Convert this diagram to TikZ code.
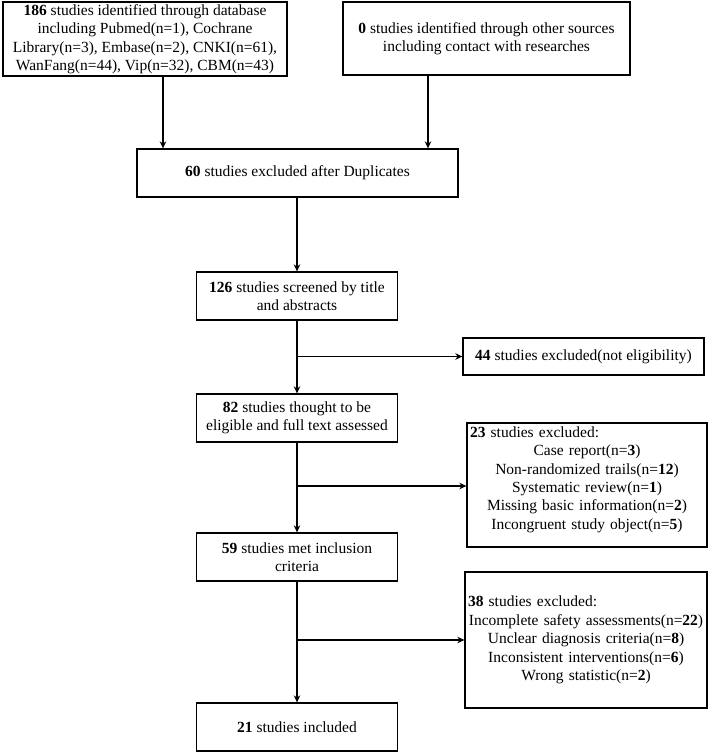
\documentclass[tikz,border=0pt]{standalone}
\usepackage{fontspec}
\setmainfont{Liberation Serif}
\usetikzlibrary{arrows.meta}
\begin{document}
\begin{tikzpicture}[x=1pt,y=-1pt,
  box/.style={draw, line width=1.3pt, inner sep=0pt, align=center,
    font=\fontsize{15.5}{18.5}\selectfont},
  txt/.style={inner sep=0pt, align=center, font=\fontsize{15.5}{18.4}\selectfont},
  arr/.style={line width=1.3pt, -{Stealth[length=7pt,width=6.5pt]}}]
\useasboundingbox (0,0) rectangle (709,753);
\node[box, minimum width=284pt, minimum height=74pt] (b1) at (145,39)
  {\textbf{186} studies identified through database\\including Pubmed(n=1), Cochrane\\Library(n=3), Embase(n=2), CNKI(n=61),\\WanFang(n=44), Vip(n=32), CBM(n=43)};
\node[box, minimum width=287pt, minimum height=73pt] (b2) at (486.5,38.5)
  {\textbf{0} studies identified through other sources\\including contact with researches};
\node[box, minimum width=321pt, minimum height=48pt] (b3) at (297.5,173)
  {\textbf{60} studies excluded after Duplicates};
\node[box, minimum width=201pt, minimum height=48pt] (b4) at (297,296)
  {\textbf{126} studies screened by title\\and abstracts};
\node[box, minimum width=241pt, minimum height=37pt] (b44) at (583.5,356.5)
  {\textbf{44} studies excluded(not eligibility)};
\node[box, minimum width=201pt, minimum height=48pt] (b5) at (297,418)
  {\textbf{82} studies thought to be\\eligible and full text assessed};
\node[box, minimum width=240pt, minimum height=124pt] (b23) at (587,485) {};
\node[txt, text width=234pt, anchor=north, yshift=-4pt] (t23) at (b23.north)
  {\makebox[\hsize][l]{\textbf{23} studies excluded:}\\
   Case report(n=\textbf{3})\\
   Non-randomized trails(n=\textbf{12})\\
   Systematic review(n=\textbf{1})\\
   Missing basic information(n=\textbf{2})\\
   Incongruent study object(n=\textbf{5})};
\node[box, minimum width=201pt, minimum height=48pt] (b6) at (297,557)
  {\textbf{59} studies met inclusion\\criteria};
\node[box, minimum width=242pt, minimum height=136pt] (b38) at (586,640) {};
\node[txt, text width=236pt] (t38) at (b38.center)
  {\makebox[\hsize][l]{\textbf{38} studies excluded:}\\
   Incomplete safety assessments(n=\textbf{22})\\
   Unclear diagnosis criteria(n=\textbf{8})\\
   Inconsistent interventions(n=\textbf{6})\\
   Wrong statistic(n=\textbf{2})};
\node[box, minimum width=201pt, minimum height=48pt] (b7) at (297,727)
  {\textbf{21} studies included};
% connectors
\coordinate (s1) at (163,76);
\coordinate (s2) at (428,75);
\draw[arr] (s1) -- (s1 |- b3.north);
\draw[arr] (s2) -- (s2 |- b3.north);
\draw[arr] (b3.south -| b4.north) -- (b4.north);
\coordinate (j1) at (297,356.5);
\coordinate (j2) at (297,486);
\coordinate (j3) at (297,640);
\draw[arr] (b4.south) -- (b5.north);
\draw[arr] (j1) -- (b44.west);
\draw[arr] (b5.south) -- (b6.north);
\draw[arr] (j2) -- (j2 -| b23.west);
\draw[arr] (b6.south) -- (b7.north);
\draw[arr] (j3) -- (b38.west);
\end{tikzpicture}
\end{document}
